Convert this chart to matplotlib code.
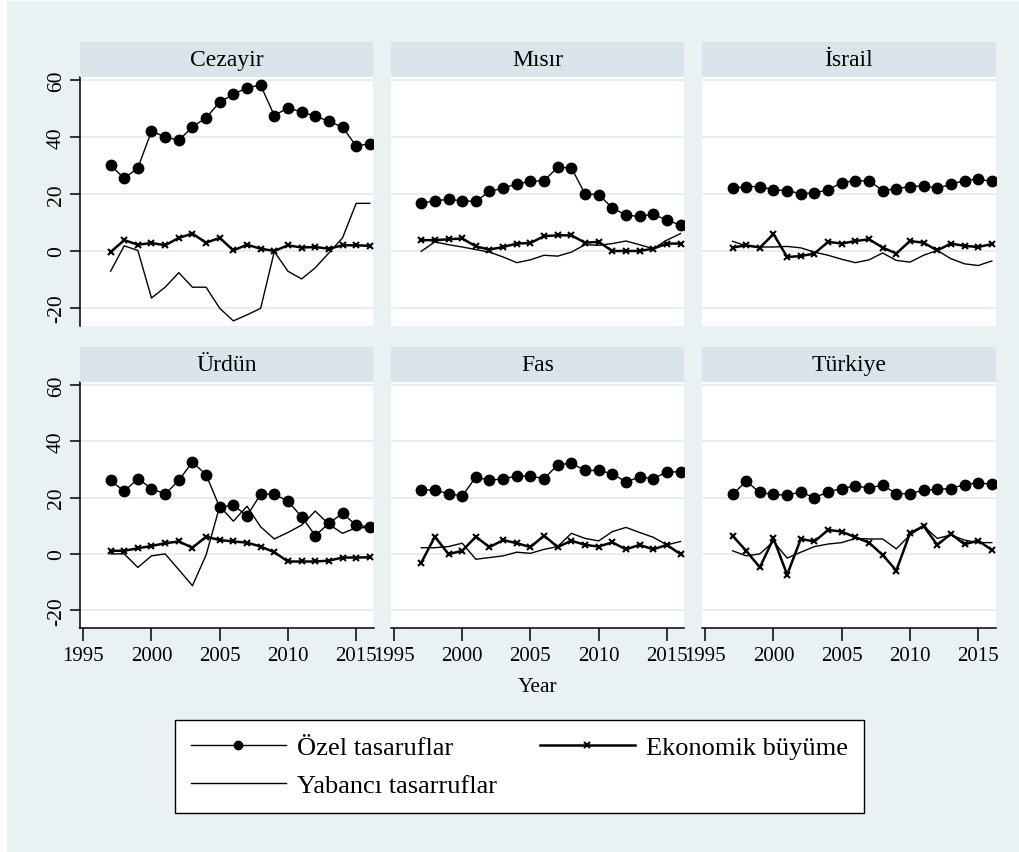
import matplotlib
matplotlib.use('Agg')
import matplotlib.pyplot as plt
from matplotlib.lines import Line2D
from matplotlib.patches import Rectangle

plt.rcParams['font.family'] = ['Liberation Serif', 'DejaVu Serif']
plt.rcParams['axes.unicode_minus'] = False

years = [1997, 1998, 1999, 2000, 2001, 2002, 2003, 2004, 2005, 2006,
         2007, 2008, 2009, 2010, 2011, 2012, 2013, 2014, 2015, 2016]
countries = ['Cezayir', 'Mısır', 'İsrail', 'Ürdün', 'Fas', 'Türkiye']
xticks = [1995, 2000, 2005, 2010, 2015]
yticks = [-20, 0, 20, 40, 60]

# Özel tasaruflar
ozel_cezayir = [30.0, 25.5, 29.1, 42.0, 40.0, 38.8, 43.5, 46.7, 52.2, 54.9,
                57.3, 58.1, 47.5, 50.2, 48.7, 47.3, 45.5, 43.4, 36.8, 37.6]
ozel_misir = [16.7, 17.6, 18.1, 17.6, 17.4, 20.9, 22.0, 23.5, 24.4, 24.7,
              29.3, 29.2, 20.0, 19.8, 15.1, 12.6, 12.1, 12.9, 10.8, 9.1]
ozel_israil = [22.0, 22.6, 22.6, 21.4, 21.2, 20.1, 20.4, 21.4, 24.0, 24.6,
               24.6, 21.2, 21.8, 22.6, 22.8, 22.0, 23.4, 24.7, 25.2, 24.4]
ozel_urdun = [26.1, 22.2, 26.7, 23.2, 21.2, 26.1, 32.6, 28.1, 16.5, 17.3,
              13.5, 21.2, 21.2, 18.7, 13.2, 6.5, 10.8, 14.4, 10.2, 9.6]
ozel_fas = [22.8, 22.6, 21.4, 20.5, 27.3, 26.1, 26.7, 27.6, 27.6, 26.7,
            31.6, 32.2, 29.6, 29.6, 28.5, 25.5, 27.3, 26.7, 29.1, 29.1]
ozel_turkiye = [21.1, 25.8, 21.8, 21.1, 20.8, 22.0, 19.9, 22.0, 23.2, 24.1,
                23.4, 24.4, 21.4, 21.4, 22.6, 22.9, 23.2, 24.6, 25.2, 24.7]

# Ekonomik büyüme
buyume_cezayir = [-0.4, 3.8, 2.2, 2.8, 2.0, 4.6, 6.1, 2.9, 4.6, 0.2,
                  2.2, 0.8, 0.0, 2.0, 1.2, 1.4, 0.8, 2.0, 2.0, 1.8]
buyume_misir = [3.8, 3.8, 4.1, 4.4, 1.6, 0.5, 1.4, 2.6, 2.8, 5.2,
                5.5, 5.5, 2.9, 3.2, 0.0, 0.0, 0.0, 0.8, 2.6, 2.6]
buyume_israil = [1.2, 2.0, 1.2, 5.9, -2.1, -1.8, -0.9, 3.2, 2.6, 3.5,
                 4.1, 1.2, -0.9, 3.5, 2.9, 0.2, 2.6, 1.8, 1.4, 2.4]
buyume_urdun = [1.1, 1.1, 2.0, 2.8, 3.8, 4.4, 2.2, 6.1, 4.9, 4.4,
                4.0, 2.6, 0.6, -2.7, -2.7, -2.7, -2.4, -1.3, -1.3, -1.2]
buyume_fas = [-3.1, 6.1, -0.1, 1.1, 6.1, 2.4, 4.9, 3.8, 2.4, 6.5,
              2.4, 4.7, 3.2, 2.6, 4.1, 1.6, 3.2, 1.6, 3.2, -0.1]
buyume_turkiye = [6.4, 1.1, -4.8, 5.5, -7.4, 5.3, 4.4, 8.5, 7.9, 5.9,
                  4.0, -0.4, -5.9, 7.3, 9.9, 3.2, 7.1, 3.4, 4.7, 1.4]

# Yabancı tasarruflar
yabanci_cezayir = [-7.1, 1.8, 0.2, -16.5, -12.7, -7.6, -12.7, -12.7, -20.1, -24.5,
                   -22.4, -20.1, -0.2, -7.1, -9.8, -5.9, -0.7, 4.6, 16.7, 16.7]
yabanci_misir = [-0.1, 3.2, 2.2, 1.4, 0.5, -0.4, -2.1, -4.1, -3.1, -1.5,
                 -1.8, -0.4, 2.2, 2.0, 2.6, 3.5, 2.2, 0.8, 3.8, 6.1]
yabanci_israil = [3.4, 1.8, 1.4, 1.4, 1.6, 1.1, -0.4, -1.5, -2.9, -4.1,
                  -3.1, -0.7, -3.3, -3.9, -1.5, 0.2, -2.7, -4.5, -5.1, -3.5]
yabanci_urdun = [0.0, 0.0, -4.8, -0.7, 0.0, -5.6, -11.3, -0.4, 16.9, 11.6,
                 16.9, 9.6, 5.3, 7.6, 10.2, 15.2, 10.5, 7.3, 9.3, 9.3]
yabanci_fas = [2.2, 2.2, 2.6, 3.8, -1.9, -1.3, -0.7, 0.6, 0.2, 1.6,
               2.6, 7.3, 5.5, 4.6, 7.9, 9.4, 7.6, 5.9, 3.2, 4.4]
yabanci_turkiye = [1.1, -0.7, 0.0, 4.4, -1.5, 0.6, 2.6, 3.5, 4.0, 5.5,
                   5.3, 5.3, 1.8, 6.7, 9.9, 5.5, 6.7, 4.9, 4.0, 4.0]

ozel = [ozel_cezayir, ozel_misir, ozel_israil, ozel_urdun, ozel_fas, ozel_turkiye]
buyume = [buyume_cezayir, buyume_misir, buyume_israil, buyume_urdun, buyume_fas, buyume_turkiye]
yabanci = [yabanci_cezayir, yabanci_misir, yabanci_israil, yabanci_urdun, yabanci_fas, yabanci_turkiye]

W, H = 1019, 853
bg = '#EAF1F3'
strip_c = '#D9E5EA'
grid_c = '#E4EDF0'

fig = plt.figure(figsize=(W / 100, H / 100), dpi=100, facecolor='white')
fig.patches.append(Rectangle((7 / W, 0), 1, 1 - 2 / H, transform=fig.transFigure,
                             facecolor=bg, edgecolor='none', zorder=-10))

lefts = [80, 390.7, 702]
pw = 293.5
rows = [(78, 327), (383, 629)]

for i, name in enumerate(countries):
    r, c = divmod(i, 3)
    top, bot = rows[r]
    ax = fig.add_axes([lefts[c] / W, 1 - bot / H, pw / W, (bot - top) / H])
    ax.set_facecolor('white')
    ax.set_xlim(1994.76, 2016.27)
    ax.set_ylim(-26.3, 61)
    ax.set_xticks(xticks)
    ax.set_yticks(yticks)
    ax.grid(axis='y', color=grid_c, lw=1.3)
    ax.set_axisbelow(True)
    for s in ax.spines.values():
        s.set_visible(False)
    if c == 0:
        ax.spines['left'].set_visible(True)
        ax.spines['left'].set_linewidth(1.1)
    if r == 1:
        ax.spines['bottom'].set_visible(True)
        ax.spines['bottom'].set_linewidth(1.1)
    ax.tick_params(axis='y', left=(c == 0), labelleft=(c == 0), length=7,
                   width=1.1, labelsize=15.5, labelrotation=90, pad=3)
    for lab in ax.get_yticklabels():
        lab.set_va('center')
    ax.tick_params(axis='x', bottom=(r == 1), labelbottom=(r == 1), length=9,
                   width=1.1, labelsize=15, pad=4)

    ax.plot(years, yabanci[i], color='black', lw=1.0)
    ax.plot(years, buyume[i], color='black', lw=1.8, marker='x', ms=5, mew=1.5)
    ax.plot(years, ozel[i], color='black', lw=1.0, marker='o', ms=7.5)

    sax = fig.add_axes([lefts[c] / W, 1 - top / H, pw / W, 35 / H])
    sax.set_facecolor(strip_c)
    sax.set_xticks([])
    sax.set_yticks([])
    for s in sax.spines.values():
        s.set_visible(False)
    sax.text(0.5, 0.5, name, ha='center', va='center', fontsize=17,
             transform=sax.transAxes)

fig.text(538 / W, 1 - 688 / H, 'Year', ha='center', va='center', fontsize=15.5)

handles = [
    Line2D([], [], color='black', lw=1.0, marker='o', ms=6),
    Line2D([], [], color='black', lw=1.0),
    Line2D([], [], color='black', lw=1.8, marker='x', ms=4, mew=1.5),
]
labels = ['Özel tasaruflar', 'Yabancı tasarruflar', 'Ekonomik büyüme']
leg = fig.legend(handles, labels, loc='upper center',
                 bbox_to_anchor=(519.5 / W, 1 - 721 / H), ncol=2,
                 frameon=True, fancybox=False, edgecolor='black',
                 facecolor='white', framealpha=1.0,
                 fontsize=19, handlelength=3.6, handletextpad=0.45,
                 columnspacing=1.6, borderpad=0.6, labelspacing=0.55,
                 borderaxespad=0)
leg.get_frame().set_linewidth(1.0)

fig.savefig('out.png', dpi=100, facecolor=fig.get_facecolor())
